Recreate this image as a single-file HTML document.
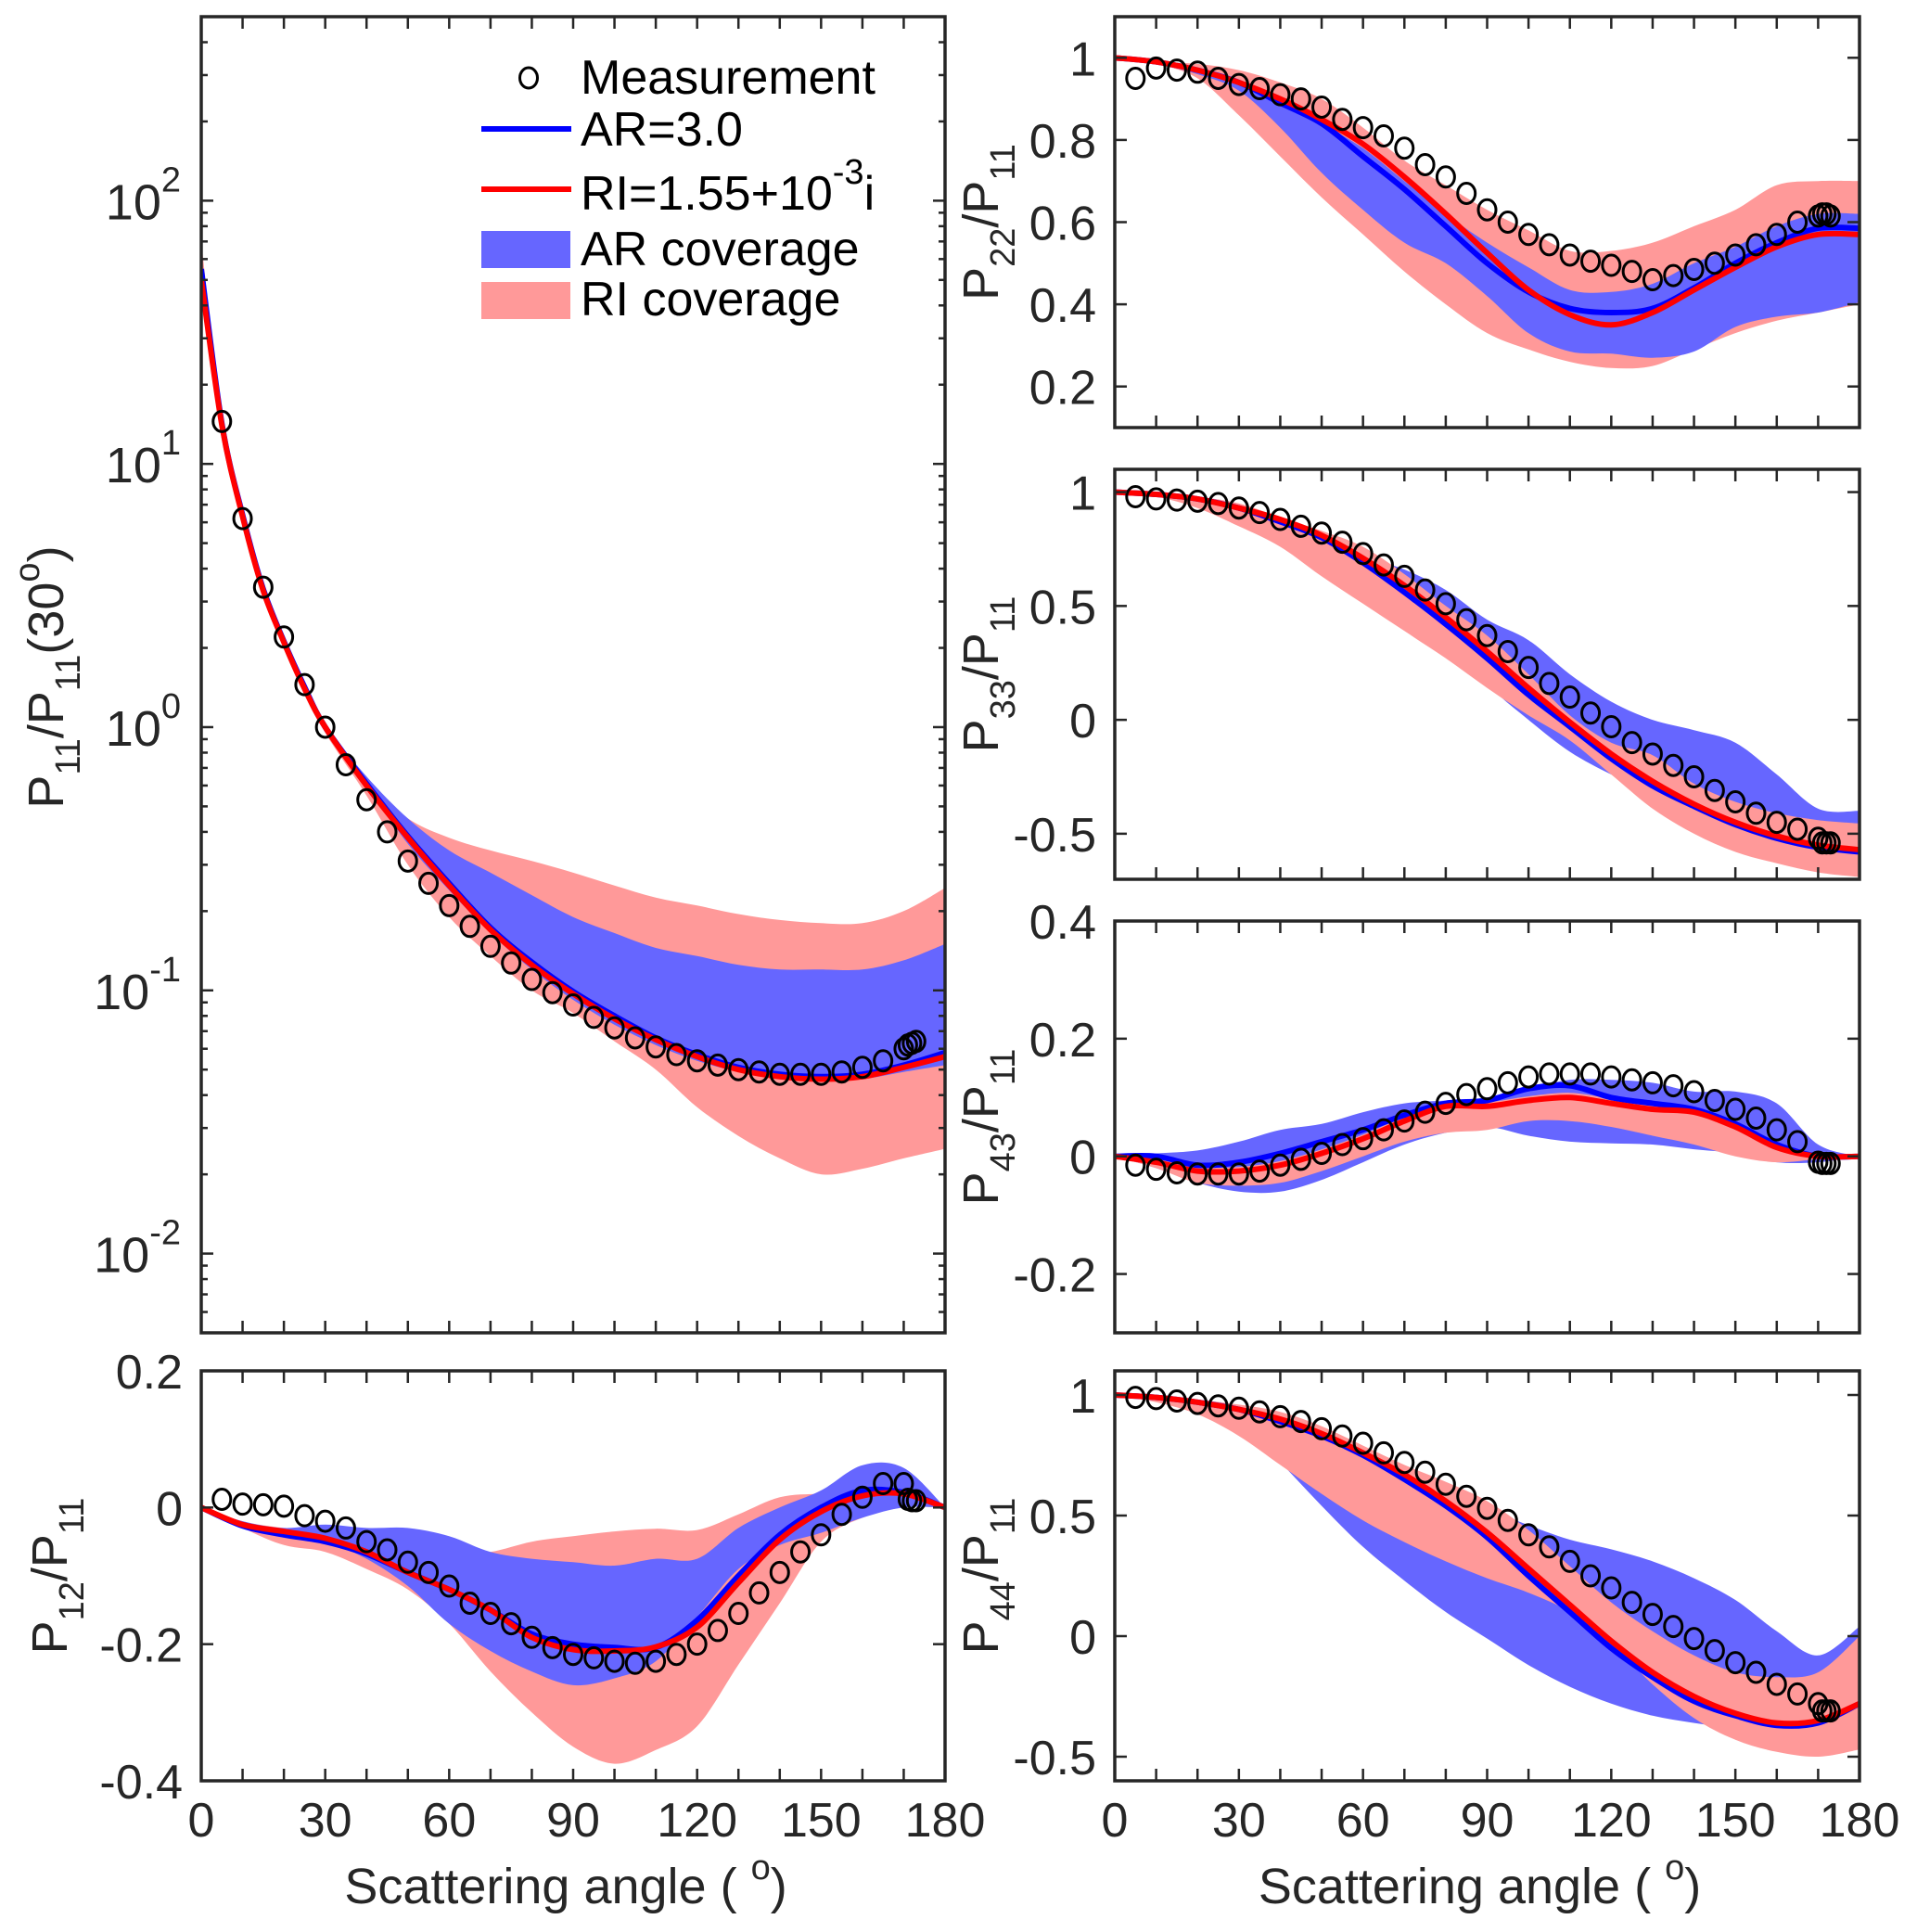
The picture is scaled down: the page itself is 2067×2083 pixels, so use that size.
<!DOCTYPE html>
<html><head><meta charset="utf-8"><style>
html,body{margin:0;padding:0;background:#fff}
svg{display:block}
text{font-family:"Liberation Sans",Arial,sans-serif;fill:#262626}
</style></head><body>
<svg id="fig" width="2067" height="2083" viewBox="0 0 2067 2083" xmlns="http://www.w3.org/2000/svg"></svg>
<script>
// ---- shared angle grids ----
const ANG = [0,10,20,30,40,50,60,70,80,90,100,110,120,130,140,150,160,170,180];
const ANG11 = [0,5,10,15,20,25,30,40,50,60,70,80,90,100,110,120,130,140,150,160,170,180];
const MANG = [5,10,15,20,25,30,35,40,45,50,55,60,65,70,75,80,85,90,95,100,105,110,115,120,125,130,135,140,145,150,155,160,165,170,171,172,173];

// ---- P11 (log) ----
const p11Meas = [14.5,6.2,3.4,2.2,1.45,1.0,0.72,0.53,0.40,0.31,0.255,0.21,0.175,0.147,0.127,0.11,0.098,0.088,0.079,0.072,0.066,0.061,0.057,0.054,0.052,0.050,0.049,0.048,0.048,0.048,0.049,0.051,0.054,0.060,0.062,0.063,0.064];
const p11Red  = [50,14,6.3,3.3,2.1,1.4,1.0,0.6,0.38,0.25,0.17,0.125,0.097,0.078,0.065,0.056,0.050,0.047,0.046,0.047,0.051,0.056];
const p11Blue = [55,14.2,6.4,3.35,2.12,1.42,1.0,0.61,0.385,0.255,0.173,0.128,0.099,0.08,0.066,0.057,0.051,0.048,0.047,0.048,0.052,0.058];
const p11ArHi = [56,14.5,6.5,3.4,2.15,1.44,1.02,0.65,0.45,0.34,0.28,0.23,0.19,0.165,0.145,0.135,0.125,0.12,0.12,0.12,0.13,0.15];
const p11ArLo = [54,14,6.3,3.3,2.1,1.4,0.99,0.6,0.36,0.24,0.165,0.12,0.092,0.074,0.062,0.054,0.049,0.046,0.045,0.046,0.049,0.052];
const p11RiHi = [70,15,6.8,3.6,2.25,1.5,1.05,0.62,0.45,0.38,0.34,0.31,0.28,0.25,0.225,0.21,0.195,0.185,0.18,0.18,0.2,0.245];
const p11RiLo = [45,13.5,6.0,3.2,2.0,1.36,0.95,0.55,0.3,0.19,0.135,0.1,0.082,0.064,0.05,0.036,0.028,0.023,0.02,0.021,0.023,0.025];

// ---- P12 ----
const p12Meas = [0.012,0.005,0.004,0.002,-0.012,-0.02,-0.03,-0.05,-0.062,-0.08,-0.095,-0.115,-0.14,-0.155,-0.17,-0.19,-0.205,-0.215,-0.22,-0.225,-0.228,-0.225,-0.215,-0.2,-0.18,-0.155,-0.125,-0.095,-0.065,-0.04,-0.01,0.015,0.035,0.035,0.012,0.01,0.01];
const p12Red  = [0,-0.025,-0.035,-0.045,-0.065,-0.095,-0.12,-0.15,-0.19,-0.208,-0.21,-0.204,-0.175,-0.11,-0.047,-0.006,0.017,0.02,0];
const p12Blue = [0,-0.027,-0.04,-0.05,-0.068,-0.095,-0.12,-0.15,-0.185,-0.2,-0.205,-0.205,-0.165,-0.1,-0.04,0.0,0.025,0.022,0];
const p12ArHi = [0,-0.02,-0.03,-0.025,-0.03,-0.03,-0.042,-0.065,-0.075,-0.08,-0.085,-0.075,-0.075,-0.03,0.0,0.025,0.062,0.058,0];
const p12ArLo = [0,-0.025,-0.037,-0.05,-0.075,-0.115,-0.17,-0.21,-0.24,-0.26,-0.25,-0.225,-0.16,-0.09,-0.055,-0.037,-0.015,0.0,0];
const p12RiHi = [0,-0.02,-0.03,-0.035,-0.045,-0.06,-0.07,-0.065,-0.05,-0.042,-0.035,-0.031,-0.033,-0.01,0.015,0.02,0.02,0.02,0];
const p12RiLo = [0,-0.03,-0.055,-0.065,-0.09,-0.12,-0.17,-0.24,-0.3,-0.35,-0.375,-0.355,-0.32,-0.23,-0.14,-0.05,-0.015,0.0,0];

// ---- P22 ----
const p22Meas = [0.95,0.975,0.97,0.965,0.95,0.935,0.925,0.91,0.9,0.88,0.85,0.83,0.81,0.78,0.74,0.71,0.67,0.63,0.6,0.57,0.545,0.52,0.505,0.495,0.48,0.46,0.47,0.485,0.5,0.52,0.545,0.57,0.6,0.615,0.62,0.62,0.615];
const p22Red  = [1,0.99,0.97,0.94,0.9,0.85,0.79,0.71,0.62,0.525,0.435,0.375,0.35,0.38,0.435,0.49,0.54,0.57,0.57];
const p22Blue = [1,0.99,0.97,0.94,0.89,0.84,0.76,0.68,0.59,0.5,0.43,0.39,0.38,0.39,0.44,0.5,0.55,0.585,0.585];
const p22ArHi = [1,0.99,0.975,0.94,0.9,0.84,0.78,0.7,0.62,0.55,0.49,0.435,0.43,0.45,0.5,0.54,0.59,0.62,0.62];
const p22ArLo = [1,0.985,0.96,0.92,0.83,0.72,0.63,0.55,0.5,0.42,0.33,0.285,0.28,0.27,0.285,0.345,0.37,0.38,0.405];
const p22RiHi = [1,0.99,0.985,0.97,0.94,0.9,0.83,0.75,0.69,0.63,0.58,0.53,0.53,0.55,0.59,0.63,0.69,0.70,0.70];
const p22RiLo = [1,0.985,0.95,0.86,0.76,0.66,0.57,0.48,0.4,0.33,0.29,0.26,0.245,0.25,0.29,0.33,0.36,0.38,0.4];

// ---- P33 ----
const p33Meas = [0.98,0.97,0.965,0.96,0.95,0.93,0.91,0.88,0.85,0.82,0.78,0.73,0.68,0.63,0.57,0.51,0.44,0.37,0.3,0.23,0.16,0.1,0.03,-0.03,-0.1,-0.15,-0.2,-0.25,-0.31,-0.36,-0.41,-0.45,-0.48,-0.52,-0.54,-0.54,-0.54];
const p33Red  = [1,0.99,0.97,0.93,0.88,0.81,0.71,0.59,0.45,0.3,0.14,-0.01,-0.15,-0.27,-0.37,-0.45,-0.51,-0.55,-0.57];
const p33Blue = [1,0.99,0.97,0.93,0.87,0.8,0.69,0.56,0.42,0.27,0.11,-0.03,-0.17,-0.29,-0.38,-0.46,-0.52,-0.56,-0.58];
const p33ArHi = [1,0.99,0.97,0.93,0.88,0.81,0.72,0.66,0.57,0.44,0.35,0.2,0.08,0.0,-0.045,-0.1,-0.24,-0.39,-0.4];
const p33ArLo = [1,0.99,0.97,0.92,0.86,0.78,0.68,0.55,0.4,0.16,0.0,-0.14,-0.24,-0.32,-0.4,-0.46,-0.52,-0.56,-0.58];
const p33RiHi = [1,0.99,0.98,0.95,0.89,0.83,0.76,0.64,0.5,0.37,0.2,0.02,-0.1,-0.155,-0.28,-0.36,-0.41,-0.44,-0.455];
const p33RiLo = [1,0.98,0.93,0.85,0.76,0.63,0.51,0.39,0.27,0.14,0.02,-0.09,-0.24,-0.39,-0.5,-0.58,-0.63,-0.67,-0.69];

// ---- P43 ----
const p43Meas = [-0.015,-0.022,-0.028,-0.03,-0.03,-0.03,-0.025,-0.015,-0.005,0.005,0.02,0.03,0.045,0.06,0.075,0.09,0.105,0.115,0.125,0.135,0.14,0.14,0.14,0.135,0.13,0.125,0.12,0.11,0.095,0.08,0.065,0.045,0.025,-0.01,-0.012,-0.012,-0.012];
const p43Red  = [0,-0.01,-0.025,-0.025,-0.015,0.005,0.03,0.06,0.085,0.085,0.095,0.1,0.09,0.08,0.075,0.05,0.015,0.0,0];
const p43Blue = [0,0.0,-0.015,-0.01,0.005,0.025,0.045,0.07,0.09,0.095,0.115,0.12,0.1,0.09,0.08,0.055,0.02,0.0,0];
const p43ArHi = [0,0.005,0.01,0.025,0.045,0.055,0.075,0.09,0.095,0.1,0.115,0.13,0.13,0.125,0.11,0.11,0.09,0.02,0];
const p43ArLo = [0,-0.02,-0.045,-0.06,-0.06,-0.04,-0.01,0.02,0.04,0.05,0.035,0.025,0.022,0.02,0.012,0.005,-0.01,-0.01,0];
const p43RiHi = [0,-0.005,-0.018,-0.018,-0.008,0.012,0.037,0.067,0.092,0.092,0.102,0.108,0.098,0.088,0.083,0.058,0.022,0.003,0];
const p43RiLo = [0,-0.02,-0.045,-0.05,-0.045,-0.025,0.0,0.025,0.04,0.045,0.06,0.06,0.05,0.035,0.02,0.0,-0.01,-0.005,0];

// ---- P44 ----
const p44Meas = [0.99,0.985,0.975,0.965,0.955,0.945,0.93,0.91,0.89,0.86,0.83,0.8,0.76,0.72,0.68,0.63,0.58,0.53,0.48,0.42,0.37,0.31,0.25,0.2,0.14,0.09,0.04,-0.01,-0.06,-0.11,-0.15,-0.2,-0.24,-0.28,-0.31,-0.31,-0.31];
const p44Red  = [1,0.99,0.97,0.94,0.9,0.84,0.76,0.67,0.56,0.43,0.28,0.13,-0.02,-0.15,-0.25,-0.32,-0.36,-0.35,-0.28];
const p44Blue = [1,0.99,0.97,0.94,0.89,0.83,0.75,0.65,0.54,0.41,0.25,0.1,-0.05,-0.17,-0.27,-0.33,-0.37,-0.36,-0.28];
const p44ArHi = [1,0.99,0.97,0.94,0.9,0.84,0.77,0.69,0.6,0.53,0.46,0.4,0.36,0.31,0.24,0.15,0.02,-0.08,0.04];
const p44ArLo = [1,0.98,0.95,0.88,0.72,0.54,0.37,0.23,0.1,-0.01,-0.12,-0.21,-0.28,-0.33,-0.36,-0.38,-0.38,-0.38,-0.38];
const p44RiHi = [1,0.99,0.98,0.96,0.93,0.87,0.79,0.71,0.64,0.56,0.44,0.29,0.14,0.02,-0.08,-0.15,-0.17,-0.15,0.0];
const p44RiLo = [1,0.97,0.92,0.83,0.71,0.59,0.48,0.39,0.31,0.24,0.18,0.1,-0.03,-0.2,-0.34,-0.43,-0.48,-0.5,-0.47];

// ---- ticks ----
const xTicks = [0,30,60,90,120,150,180];
const p12Ticks = [0.2,0,-0.2,-0.4];
const p22Ticks = [0.2,0.4,0.6,0.8,1];
const p33Ticks = [-0.5,0,0.5,1];
const p43Ticks = [-0.2,0,0.2,0.4];
const p44Ticks = [-0.5,0,0.5,1];
const p11Decades = [-2,-1,0,1,2];

const NS='http://www.w3.org/2000/svg';
const svg=document.getElementById('fig');
function mk(tag,attrs,parent){const e=document.createElementNS(NS,tag);for(const k in attrs)e.setAttribute(k,attrs[k]);(parent||svg).appendChild(e);return e;}

function smoothSeg(pts){let d='';for(let i=0;i<pts.length-1;i++){const p0=pts[i-1]||pts[i],p1=pts[i],p2=pts[i+1],p3=pts[i+2]||p2;
 const c1=[p1[0]+(p2[0]-p0[0])/6,p1[1]+(p2[1]-p0[1])/6],c2=[p2[0]-(p3[0]-p1[0])/6,p2[1]-(p3[1]-p1[1])/6];
 d+=` C${c1[0].toFixed(1)},${c1[1].toFixed(1)} ${c2[0].toFixed(1)},${c2[1].toFixed(1)} ${p2[0].toFixed(1)},${p2[1].toFixed(1)}`;}return d;}

const panels=[
 {id:'p11',x0:217,x1:1019,y0:18,y1:1437,log:true,min:Math.log10(0.005),max:Math.log10(500),ang:ANG11,red:p11Red,blue:p11Blue,arHi:p11ArHi,arLo:p11ArLo,riHi:p11RiHi,riLo:p11RiLo,meas:p11Meas,pinkTop:false,xlab:false},
 {id:'p12',x0:217,x1:1019,y0:1478,y1:1920,min:-0.4,max:0.2,ang:ANG,red:p12Red,blue:p12Blue,arHi:p12ArHi,arLo:p12ArLo,riHi:p12RiHi,riLo:p12RiLo,meas:p12Meas,ticks:p12Ticks,pinkTop:false,xlab:true,lab:['12','11']},
 {id:'p22',x0:1202,x1:2005,y0:18,y1:461,min:0.1,max:1.1,ang:ANG,red:p22Red,blue:p22Blue,arHi:p22ArHi,arLo:p22ArLo,riHi:p22RiHi,riLo:p22RiLo,meas:p22Meas,ticks:p22Ticks,pinkTop:false,xlab:false,lab:['22','11']},
 {id:'p33',x0:1202,x1:2005,y0:506,y1:948,min:-0.7,max:1.1,ang:ANG,red:p33Red,blue:p33Blue,arHi:p33ArHi,arLo:p33ArLo,riHi:p33RiHi,riLo:p33RiLo,meas:p33Meas,ticks:p33Ticks,pinkTop:true,xlab:false,lab:['33','11']},
 {id:'p43',x0:1202,x1:2005,y0:993,y1:1437,min:-0.3,max:0.4,ang:ANG,red:p43Red,blue:p43Blue,arHi:p43ArHi,arLo:p43ArLo,riHi:p43RiHi,riLo:p43RiLo,meas:p43Meas,ticks:p43Ticks,pinkTop:true,xlab:false,lab:['43','11']},
 {id:'p44',x0:1202,x1:2005,y0:1478,y1:1920,min:-0.6,max:1.1,ang:ANG,red:p44Red,blue:p44Blue,arHi:p44ArHi,arLo:p44ArLo,riHi:p44RiHi,riLo:p44RiLo,meas:p44Meas,ticks:p44Ticks,pinkTop:true,xlab:true,lab:['44','11']}
];

panels.forEach(P=>{
 const g=mk('g',{});
 
 
 const sx=a=>P.x0+(a/180)*(P.x1-P.x0);
 const sy=v=>{const t=P.log?Math.log10(v):v;return P.y1-(t-P.min)/(P.max-P.min)*(P.y1-P.y0);};
 const clip=mk('clipPath',{id:'clip-'+P.id},g);mk('rect',{x:P.x0,y:P.y0,width:P.x1-P.x0,height:P.y1-P.y0},clip);
 const plot=mk('g',{'clip-path':`url(#clip-${P.id})`},g);
 function band(hi,lo,color,name){const up=P.ang.map((a,i)=>[sx(a),sy(hi[i])]);const dn=P.ang.map((a,i)=>[sx(a),sy(lo[i])]).reverse();
  const d=`M${up[0][0]},${up[0][1]}`+smoothSeg(up)+` L${dn[0][0]},${dn[0][1]}`+smoothSeg(dn)+'Z';
  const p=mk('path',{d:d,fill:color,stroke:'none'},plot);
  
  }
 function line(vals,color,name){const pts=P.ang.map((a,i)=>[sx(a),sy(vals[i])]);
  const p=mk('path',{d:`M${pts[0][0]},${pts[0][1]}`+smoothSeg(pts),fill:'none',stroke:color,'stroke-width':6,'stroke-linejoin':'round'},plot);
  
  }
 if(P.pinkTop){band(P.arHi,P.arLo,'#6666ff','ar-coverage-band');band(P.riHi,P.riLo,'#ff9999','ri-coverage-band');}
 else{band(P.riHi,P.riLo,'#ff9999','ri-coverage-band');band(P.arHi,P.arLo,'#6666ff','ar-coverage-band');}
 const mg=mk('g',{},g);
 
 
 MANG.forEach((a,i)=>{const c=mk('ellipse',{cx:sx(a),cy:sy(P.meas[i]),rx:9.5,ry:11,fill:'none',stroke:'#000','stroke-width':3},mg);
  
  });
 line(P.blue,'#0000ff','ar-3-line');
 line(P.red,'#ff0000','ri-line');
 const fr=mk('rect',{x:P.x0,y:P.y0,width:P.x1-P.x0,height:P.y1-P.y0,fill:'none',stroke:'#262626','stroke-width':3.5},g);
 
 
 for(let a=10;a<180;a+=10){const x=sx(a);
  mk('line',{x1:x,y1:P.y1,x2:x,y2:P.y1-13,stroke:'#262626','stroke-width':2.5},g);
  mk('line',{x1:x,y1:P.y0,x2:x,y2:P.y0+13,stroke:'#262626','stroke-width':2.5},g);}
 if(P.xlab){xTicks.forEach(a=>{const t=mk('text',{x:sx(a),y:1980,'text-anchor':'middle','font-size':52},g);t.textContent=a;
   
   });
  const tt=mk('text',{x:(P.x0+P.x1)/2-8,y:2052,'text-anchor':'middle','font-size':54},g);
  tt.innerHTML='Scattering angle ( <tspan font-size="38" dy="-26">o</tspan><tspan dy="26">)</tspan>';
  
  }
 if(P.log){
  for(let d=-3;d<=2;d++)for(let m=1;m<=9;m++){const v=m*Math.pow(10,d);if(v<0.005||v>500)continue;const y=sy(v);const L=m===1?13:7;
   mk('line',{x1:P.x0,y1:y,x2:P.x0+L,y2:y,stroke:'#262626','stroke-width':2.5},g);mk('line',{x1:P.x1,y1:y,x2:P.x1-L,y2:y,stroke:'#262626','stroke-width':2.5},g);}
  p11Decades.forEach(d=>{const t=mk('text',{x:P.x0-22,y:sy(Math.pow(10,d))+20,'text-anchor':'end','font-size':54},g);
   t.innerHTML=`10<tspan font-size="38" dy="-30">${d}</tspan>`;
   
   });
  const yl=mk('text',{transform:'rotate(-90 68 730)',x:68,y:730,'text-anchor':'middle','font-size':54},g);
  yl.innerHTML='P<tspan font-size="38" dy="18">11</tspan><tspan dy="-18">/P</tspan><tspan font-size="38" dy="18">11</tspan><tspan dy="-18">(30</tspan><tspan font-size="38" dy="-26">o</tspan><tspan dy="26">)</tspan>';
  
  
 } else {
  P.ticks.forEach(v=>{const y=sy(v);
   mk('line',{x1:P.x0,y1:y,x2:P.x0+13,y2:y,stroke:'#262626','stroke-width':2.5},g);mk('line',{x1:P.x1,y1:y,x2:P.x1-13,y2:y,stroke:'#262626','stroke-width':2.5},g);
   const t=mk('text',{x:P.x0-20,y:y+19,'text-anchor':'end','font-size':52},g);t.textContent=String(v);
   
   });
  const bx=P.x0<500?72:1076, cy=(P.y0+P.y1)/2;
  const yl=mk('text',{transform:`rotate(-90 ${bx} ${cy})`,x:bx,y:cy,'text-anchor':'middle','font-size':54},g);
  yl.innerHTML=`P<tspan font-size="38" dy="18">${P.lab[0]}</tspan><tspan dy="-18">/P</tspan><tspan font-size="38" dy="18">${P.lab[1]}</tspan>`;
  
  
 }
});

const lg=mk('g',{});


const lm=mk('ellipse',{cx:570,cy:84,rx:9.5,ry:11,fill:'none',stroke:'#000','stroke-width':3},lg);


const lb=mk('line',{x1:519,y1:139,x2:616,y2:139,stroke:'#0000ff','stroke-width':6},lg);


const lr=mk('line',{x1:519,y1:204,x2:616,y2:204,stroke:'#ff0000','stroke-width':6},lg);


const la=mk('rect',{x:519,y:249,width:96,height:40,fill:'#6666ff'},lg);


const lp=mk('rect',{x:519,y:304,width:96,height:40,fill:'#ff9999'},lg);


const labels=[['Measurement',101],['AR=3.0',157],['RI=1.55+10<tspan font-size="38" dy="-28">-3</tspan><tspan dy="28">i</tspan>',226],['AR coverage',286],['RI coverage',340]];
labels.forEach(l=>{const t=mk('text',{x:626,y:l[1],'font-size':52,fill:'#000'},lg);t.innerHTML=l[0];t.style.fill='#000';
 
 });
</script>
</body></html>
